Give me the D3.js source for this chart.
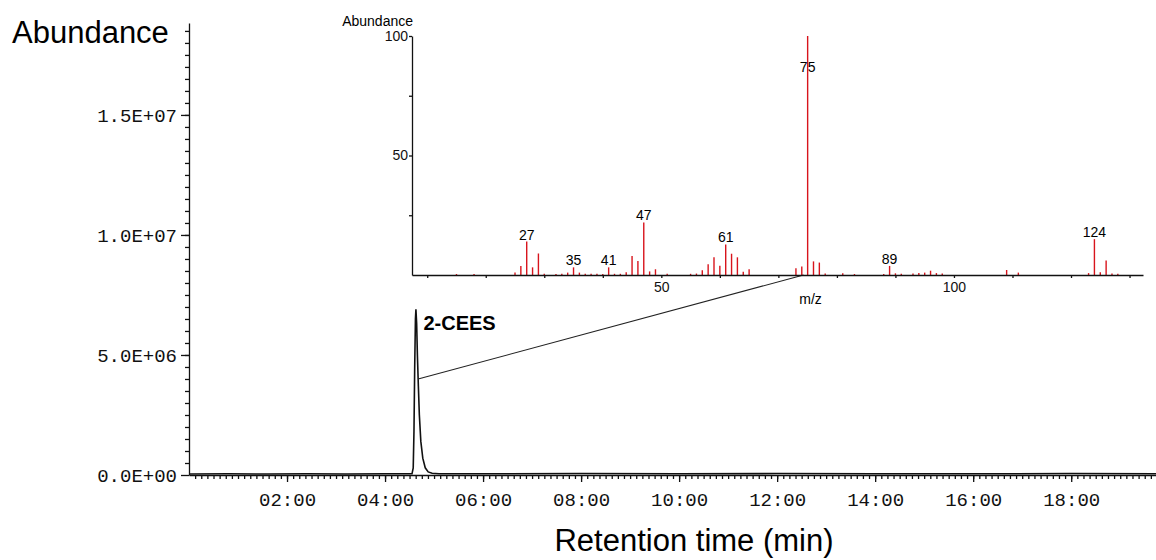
<!DOCTYPE html>
<html>
<head>
<meta charset="utf-8">
<script src="https://cdn.jsdelivr.net/npm/d3@7"></script>
<style>
  html, body { margin: 0; padding: 0; background: #fff; }
  #chart { width: 1156px; height: 560px; }
</style>
</head>
<body>
<div id="chart"></div>
<script>
// total ion chromatogram (time in min, abundance)
const retTime = [0.02, 0.8, 1.6, 2.4, 3.2, 4.0, 4.55, 4.575, 4.59, 4.605, 4.62, 4.63, 4.645, 4.66, 4.68, 4.70,
    4.73, 4.77, 4.82, 4.88, 4.96, 5.1, 6.0, 8.0, 10.0, 12.0, 14.0, 16.0, 18.0, 19.73];
const abundance = [4e4, 5e4, 4e4, 5e4, 4e4, 5e4, 5e4, 3e5, 1.8e6, 4.5e6, 6.5e6, 6.9e6, 6.3e6, 5.0e6, 3.7e6, 2.5e6,
    1.4e6, 7e5, 3e5, 1.3e5, 7e4, 5e4, 5e4, 6e4, 5e4, 6e4, 5e4, 5e4, 6e4, 5e4];

// mass spectrum of the 2-CEES peak (m/z, relative abundance %)
const mz = [15, 18, 25, 26, 27, 28, 29, 30, 32, 33, 34, 35, 36, 37, 38, 39, 40, 41, 42, 43, 44, 45, 46, 47, 48, 49,
    51, 55, 56, 57, 58, 59, 60, 61, 62, 63, 64, 65, 73, 74, 75, 76, 77, 78, 81, 83, 88, 89, 90, 91, 93, 94, 95,
    96, 97, 98, 109, 111, 123, 124, 125, 126, 127, 128];
const relAbund = [0.4, 0.4, 1.0, 3.8, 14, 3.2, 9, 0.5, 0.4, 0.5, 1.0, 3.2, 1.0, 0.5, 0.5, 0.5, 0.4, 3.2, 0.5, 0.5,
    1.2, 8, 5.9, 22, 1.5, 2.4, 0.5, 0.5, 0.6, 2, 4.5, 7.4, 3.9, 12.8, 8.9, 7.4, 1.4, 2.4, 2.8, 3.6, 100, 5.7, 5.2,
    0.6, 0.7, 0.4, 0.4, 3.8, 0.7, 0.5, 0.6, 0.8, 1.0, 1.8, 0.8, 0.6, 2.1, 1.0, 0.8, 15, 1.2, 6.1, 0.6, 0.5];
const labelledMz = [27, 35, 41, 47, 61, 75, 89, 124];

// tick labels
const timeTicks = [2, 4, 6, 8, 10, 12, 14, 16, 18];
const abundTicks = [0, 5e6, 1e7, 1.5e7];
const mzTicks = [50, 100];
const relTicks = [50, 100];

// connector from the chromatogram peak to the spectrum
const peakLink = { time: 4.675, abundance: 4.0e6, mz: 74.3, rel: 0 };
const peakName = '2-CEES';

function chromChart (el) {
    const _width = 1156, _height = 560;
    const _main = { left: 189, right: 1156, top: 23, bottom: 475 };
    const _inset = { left: 412, right: 1143, top: 36, bottom: 275 };
    const mono = '"Courier New", "Liberation Mono", monospace';
    const sans = '"Liberation Sans", Arial, sans-serif';

    const _svg = d3.select(el).append('svg')
        .attr('width', _width)
        .attr('height', _height);

    const x = d3.scaleLinear().domain([0, 19.73]).range([_main.left, _main.right]);
    const y = d3.scaleLinear().domain([0, 1.883e7]).range([_main.bottom, _main.top]);
    const mx = d3.scaleLinear().domain([7.4, 132.3]).range([_inset.left, _inset.right]);
    const my = d3.scaleLinear().domain([0, 100]).range([_inset.bottom, _inset.top]);

    const sci = v => {
        if (v === 0) return '0.0E+00';
        const e = Math.floor(Math.log10(v));
        return (v / Math.pow(10, e)).toFixed(1) + 'E+' + String(e).padStart(2, '0');
    };
    const mmss = v => String(v).padStart(2, '0') + ':00';

    function styleAxis (g, font, size) {
        g.selectAll('path, line').attr('stroke', '#111').attr('stroke-width', 1.3);
        g.selectAll('text').attr('fill', '#111')
            .style('font-family', font).style('font-size', size + 'px');
    }

    // ---- main chromatogram ----
    // minor ticks first
    _svg.append('g')
        .attr('transform', 'translate(0,' + _main.bottom + ')')
        .call(d3.axisBottom(x).tickValues(d3.range(0.125, 19.7, 0.125)).tickSize(4).tickFormat('').tickSizeOuter(0))
        .call(g => styleAxis(g, mono, 19))
        .select('.domain').remove();
    _svg.append('g')
        .attr('transform', 'translate(' + _main.left + ',0)')
        .call(d3.axisLeft(y).tickValues(d3.range(5e5, 1.86e7, 5e5)).tickSize(4).tickFormat('').tickSizeOuter(0))
        .call(g => styleAxis(g, mono, 19))
        .select('.domain').remove();

    _svg.append('g')
        .attr('transform', 'translate(0,' + _main.bottom + ')')
        .call(d3.axisBottom(x).tickValues(timeTicks).tickSize(7).tickPadding(11).tickFormat(mmss).tickSizeOuter(0))
        .call(g => styleAxis(g, mono, 19));
    _svg.append('g')
        .attr('transform', 'translate(' + _main.left + ',0)')
        .call(d3.axisLeft(y).tickValues(abundTicks).tickSize(8).tickPadding(4).tickFormat(sci).tickSizeOuter(0))
        .call(g => styleAxis(g, mono, 19));

    const trace = d3.line()
        .x((d, i) => x(retTime[i]))
        .y(d => y(d));
    _svg.append('path')
        .datum(abundance)
        .attr('d', trace)
        .attr('fill', 'none')
        .attr('stroke', '#111')
        .attr('stroke-width', 1.6);

    _svg.append('text')
        .attr('x', 12).attr('y', 43)
        .style('font-family', sans).style('font-size', '31px')
        .text('Abundance');
    _svg.append('text')
        .attr('x', 694).attr('y', 551)
        .attr('text-anchor', 'middle')
        .style('font-family', sans).style('font-size', '31px')
        .text('Retention time (min)');
    _svg.append('text')
        .attr('x', x(4.62) + 8).attr('y', 330)
        .style('font-family', sans).style('font-size', '20px').style('font-weight', 'bold')
        .text(peakName);

    _svg.append('line')
        .attr('x1', x(peakLink.time)).attr('y1', y(peakLink.abundance))
        .attr('x2', mx(peakLink.mz)).attr('y2', my(peakLink.rel))
        .attr('stroke', '#222').attr('stroke-width', 1.1);

    // ---- inset spectrum ----
    const ins = _svg.append('g').attr('class', 'inset');

    ins.selectAll('line.bar')
        .data(mz)
        .enter()
        .append('line')
        .attr('class', 'bar')
        .attr('x1', d => mx(d)).attr('x2', d => mx(d))
        .attr('y1', my(0))
        .attr('y2', (d, i) => my(relAbund[i]))
        .attr('stroke', '#d8141c')
        .attr('stroke-width', 1.4);

    ins.append('g')
        .attr('transform', 'translate(0,' + _inset.bottom + ')')
        .call(d3.axisBottom(mx).tickValues(d3.range(10, 131, 10)).tickSize(3).tickPadding(4)
            .tickFormat(d => mzTicks.includes(d) ? d : '').tickSizeOuter(0))
        .call(g => styleAxis(g, sans, 14));
    ins.append('g')
        .attr('transform', 'translate(' + _inset.left + ',0)')
        .call(d3.axisLeft(my).tickValues([25, 50, 75, 100]).tickSize(3).tickPadding(1)
            .tickFormat(d => relTicks.includes(d) ? d : '').tickSizeOuter(0))
        .call(g => styleAxis(g, sans, 14));

    ins.selectAll('text.peak')
        .data(labelledMz)
        .enter()
        .append('text')
        .attr('class', 'peak')
        .attr('x', d => mx(d))
        .attr('y', d => Math.max(my(relAbund[mz.indexOf(d)]) - 2, my(85)))
        .attr('text-anchor', 'middle')
        .style('font-family', sans).style('font-size', '14px')
        .text(d => d);

    ins.append('text')
        .attr('x', _inset.left + 1).attr('y', 26)
        .attr('text-anchor', 'end')
        .style('font-family', sans).style('font-size', '14px')
        .text('Abundance');
    ins.append('text')
        .attr('x', mx(75.5)).attr('y', 304)
        .attr('text-anchor', 'middle')
        .style('font-family', sans).style('font-size', '14px')
        .text('m/z');
}

chromChart(document.getElementById('chart'));
</script>
</body>
</html>
